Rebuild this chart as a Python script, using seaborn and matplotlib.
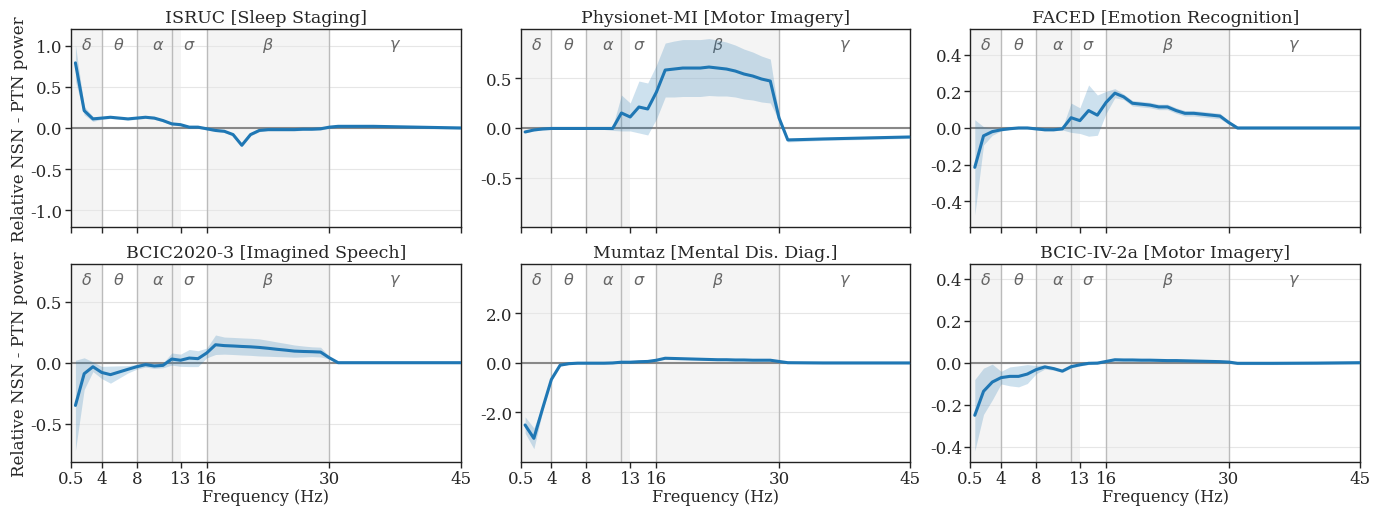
import seaborn as sns
import matplotlib.pyplot as plt
import numpy as np

# frequency grid (Hz)
freqs = list(range(1, 32)) + [35, 40, 45]

titles = ['ISRUC [Sleep Staging]', 'Physionet-MI [Motor Imagery]', 'FACED [Emotion Recognition]',
          'BCIC2020-3 [Imagined Speech]', 'Mumtaz [Mental Dis. Diag.]', 'BCIC-IV-2a [Motor Imagery]']

# mean relative NSN - PTN power, one list per dataset
isruc = [0.79, 0.21, 0.11, 0.12, 0.13, 0.12, 0.11, 0.12, 0.13, 0.12, 0.09, 0.05, 0.04, 0.01, 0.01, -0.01,
         -0.03, -0.04, -0.08, -0.21, -0.08, -0.03, -0.02, -0.02, -0.02, -0.02, -0.015, -0.015, -0.01, 0.01,
         0.02, 0.02, 0.01, 0.0]
physio = [-0.04, -0.02, -0.01, -0.005, -0.005, -0.005, -0.005, -0.005, -0.005, -0.005, -0.005, 0.15, 0.11,
          0.21, 0.19, 0.36, 0.58, 0.59, 0.60, 0.60, 0.60, 0.61, 0.60, 0.59, 0.57, 0.54, 0.52, 0.49, 0.47,
          0.10, -0.12, -0.11, -0.10, -0.09]
faced = [-0.215, -0.043, -0.02, -0.01, -0.004, 0.0, 0.0, -0.005, -0.01, -0.01, -0.005, 0.056, 0.04, 0.095,
         0.07, 0.14, 0.19, 0.17, 0.135, 0.13, 0.125, 0.115, 0.115, 0.095, 0.08, 0.08, 0.075, 0.07, 0.065,
         0.03, 0.0, 0.0, 0.0, 0.0]
bcic2020 = [-0.35, -0.09, -0.033, -0.08, -0.098, -0.076, -0.054, -0.033, -0.016, -0.027, -0.022, 0.03, 0.02,
            0.038, 0.033, 0.08, 0.147, 0.14, 0.137, 0.133, 0.13, 0.125, 0.118, 0.11, 0.103, 0.095, 0.092,
            0.09, 0.087, 0.04, 0.0, 0.0, 0.0, 0.0]
mumtaz = [-2.52, -3.06, -1.85, -0.68, -0.1, -0.04, -0.02, -0.02, -0.02, -0.02, -0.01, 0.02, 0.02, 0.04, 0.05,
          0.1, 0.18, 0.17, 0.16, 0.15, 0.14, 0.13, 0.12, 0.12, 0.11, 0.11, 0.1, 0.1, 0.1, 0.05, 0.0, -0.01,
          -0.01, -0.01]
bcic2a = [-0.25, -0.136, -0.092, -0.071, -0.065, -0.065, -0.054, -0.033, -0.02, -0.028, -0.04, -0.019, -0.01,
          -0.003, -0.002, 0.006, 0.014, 0.013, 0.013, 0.012, 0.012, 0.011, 0.01, 0.01, 0.009, 0.008, 0.007,
          0.006, 0.005, 0.003, -0.003, -0.003, -0.002, 0.0]

# half-width of the shaded band
isruc_sd = [0.22, 0.05, 0.03] + [0.015] * 31
physio_sd = [0.01] * 10 + [0.02, 0.18, 0.14, 0.26, 0.26, 0.27, 0.27, 0.28, 0.285, 0.285, 0.285, 0.285, 0.28,
                           0.27, 0.26, 0.25, 0.24, 0.23, 0.22, 0.03, 0.02, 0.015, 0.015, 0.015]
faced_sd = [0.26, 0.05, 0.02] + [0.006] * 8 + [0.08, 0.07, 0.14, 0.11, 0.06, 0.025] + [0.015] * 12 + \
           [0.01, 0.008, 0.008, 0.008, 0.008]
bcic2020_sd = [0.37, 0.13, 0.04, 0.05, 0.07, 0.05, 0.03, 0.02, 0.02, 0.02, 0.02, 0.05, 0.05, 0.07, 0.065,
               0.04, 0.08, 0.07, 0.07, 0.07, 0.07, 0.07, 0.065, 0.06, 0.055, 0.05, 0.045, 0.04, 0.04, 0.01,
               0.005, 0.005, 0.005, 0.005]
mumtaz_sd = [0.33, 0.42, 0.12, 0.05] + [0.03] * 30
bcic2a_sd = [0.17, 0.11, 0.085, 0.03, 0.045, 0.05, 0.045, 0.02, 0.01, 0.008] + [0.006] * 24

means = [isruc, physio, faced, bcic2020, mumtaz, bcic2a]
sds = [isruc_sd, physio_sd, faced_sd, bcic2020_sd, mumtaz_sd, bcic2a_sd]
ylims = [1.2, 0.99, 0.54, 0.81, 4.0, 0.47]
yticks = [[-1.0, -0.5, 0.0, 0.5, 1.0], [-0.5, 0.0, 0.5], [-0.4, -0.2, 0.0, 0.2, 0.4],
          [-0.5, 0.0, 0.5], [-2.0, 0.0, 2.0], [-0.4, -0.2, 0.0, 0.2, 0.4]]

band_names = [r'$\delta$', r'$\theta$', r'$\alpha$', r'$\sigma$', r'$\beta$', r'$\gamma$']
band_edges = [(0.5, 4), (4, 8), (8, 13), (12, 16), (16, 30), (30, 45)]
xticks = [0.5, 4, 8, 13, 16, 30, 45]

sns.set_style('white')
plt.rcParams['font.family'] = ['DejaVu Serif']
plt.rcParams['mathtext.fontset'] = 'dejavusans'
plt.rcParams['axes.unicode_minus'] = False

fig, axes = plt.subplots(2, 3, figsize=(13.85, 5.1), dpi=100, sharex=True)
fig.subplots_adjust(left=0.0513, right=0.982, top=0.941, bottom=0.093, wspace=0.154, hspace=0.187)

for i, ax in enumerate(axes.flat):
    m = np.array(means[i])
    s = np.array(sds[i])
    for j, (lo, hi) in enumerate(band_edges):
        if j % 2 == 0:
            ax.axvspan(lo, hi, color='#f4f4f4', zorder=0, lw=0)
        if j > 0:
            ax.axvline(lo, color='#bbbbbb', lw=1, zorder=1)
        ax.text((lo + hi) / 2, 0.92, band_names[j], transform=ax.get_xaxis_transform(),
                ha='center', va='center', fontsize=11.5, color='#666666')
    ax.axhline(0, color='#888888', lw=1.5, zorder=2)
    ax.fill_between(freqs, m - s, m + s, color='#1f77b4', alpha=0.22, lw=0, zorder=3)
    sns.lineplot(x=freqs, y=m, ax=ax, color='#1f77b4', lw=2.2, zorder=4)
    ax.set_ylim(-ylims[i], ylims[i])
    ax.set_yticks(yticks[i])
    ax.set_yticklabels([f'{t:.1f}' for t in yticks[i]])
    ax.yaxis.grid(True, color='#e6e6e6', lw=0.8)
    ax.set_axisbelow(True)
    ax.set_xlim(0.5, 45)
    ax.set_xticks(xticks)
    ax.set_xticklabels(['0.5', '4', '8', '13', '16', '30', '45'])
    ax.tick_params(axis='both', labelsize=12, length=4, width=1, pad=2, direction='out', bottom=True, left=True)
    ax.set_title(titles[i], fontsize=12.5, pad=5)
    for sp in ax.spines.values():
        sp.set_color('#222222')
        sp.set_linewidth(1)
    if i >= 3:
        ax.set_xlabel('Frequency (Hz)', fontsize=11.5, labelpad=1)
    if i % 3 == 0:
        ax.set_ylabel('Relative NSN - PTN power', fontsize=12, labelpad=2)

plt.savefig('out.png', dpi=100)
